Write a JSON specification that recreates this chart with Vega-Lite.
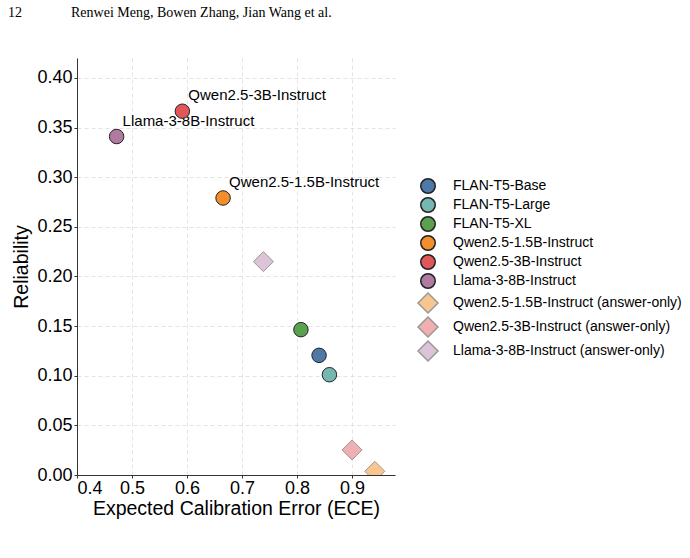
{
  "$schema": "https://vega.github.io/schema/vega-lite/v6.json",
  "width": 318,
  "height": 417,
  "autosize": {"type": "none"},
  "padding": {"left": 77, "top": 58, "right": 295, "bottom": 83},
  "background": "white",
  "title": {
    "text": "12\u00a0\u00a0\u00a0\u00a0\u00a0\u00a0\u00a0\u00a0\u00a0\u00a0\u00a0\u00a0\u00a0\u00a0Renwei Meng, Bowen Zhang, Jian Wang et al.",
    "anchor": "start",
    "frame": "group",
    "font": "Liberation Serif",
    "fontSize": 14,
    "fontWeight": "normal",
    "color": "black",
    "dx": -69,
    "offset": 38
  },
  "data": {
    "values": [
      {"model": "FLAN-T5-Base", "ece": 0.840, "reliability": 0.1205, "label": ""},
      {"model": "FLAN-T5-Large", "ece": 0.8588, "reliability": 0.101, "label": ""},
      {"model": "FLAN-T5-XL", "ece": 0.807, "reliability": 0.1464, "label": ""},
      {"model": "Qwen2.5-1.5B-Instruct", "ece": 0.6655, "reliability": 0.279, "label": "Qwen2.5-1.5B-Instruct"},
      {"model": "Qwen2.5-3B-Instruct", "ece": 0.5915, "reliability": 0.3664, "label": "Qwen2.5-3B-Instruct"},
      {"model": "Llama-3-8B-Instruct", "ece": 0.472, "reliability": 0.3409, "label": "Llama-3-8B-Instruct"},
      {"model": "Qwen2.5-1.5B-Instruct (answer-only)", "ece": 0.9413, "reliability": 0.0037, "label": ""},
      {"model": "Qwen2.5-3B-Instruct (answer-only)", "ece": 0.900, "reliability": 0.0252, "label": ""},
      {"model": "Llama-3-8B-Instruct (answer-only)", "ece": 0.7388, "reliability": 0.2149, "label": ""}
    ]
  },
  "config": {
    "view": {"stroke": null},
    "font": "Liberation Sans",
    "axis": {
      "labelFont": "Liberation Sans",
      "titleFont": "Liberation Sans",
      "labelFontSize": 18,
      "titleFontSize": 19.5,
      "titleFontWeight": "normal",
      "labelColor": "black",
      "titleColor": "black",
      "domainColor": "#333",
      "tickColor": "#333",
      "tickSize": 3,
      "gridColor": "#dddddd",
      "gridDash": [4, 3],
      "gridWidth": 0.8
    },
    "legend": {
      "title": null,
      "orient": "none",
      "legendX": 340,
      "legendY": 120,
      "labelFont": "Liberation Sans",
      "labelFontSize": 14,
      "labelColor": "black",
      "labelOffset": 14,
      "labelLimit": 0,
      "rowPadding": -3
    }
  },
  "encoding": {
    "x": {
      "field": "ece",
      "type": "quantitative",
      "scale": {"domain": [0.4, 0.978], "nice": false, "zero": false},
      "axis": {"title": "Expected Calibration Error (ECE)", "values": [0.4, 0.5, 0.6, 0.7, 0.8, 0.9], "format": ".1f", "labelPadding": 1, "titlePadding": 2}
    },
    "y": {
      "field": "reliability",
      "type": "quantitative",
      "scale": {"domain": [0, 0.42], "nice": false},
      "axis": {"title": "Reliability", "values": [0, 0.05, 0.1, 0.15, 0.2, 0.25, 0.3, 0.35, 0.4], "format": ".2f", "labelPadding": 2, "titlePadding": 5}
    }
  },
  "layer": [
    {
      "transform": [{"filter": "datum.label != ''"}],
      "mark": {"type": "text", "align": "left", "baseline": "middle", "dx": 6, "dy": -16, "fontSize": 15, "font": "Liberation Sans", "color": "black"},
      "encoding": {"text": {"field": "label"}}
    },
    {
      "mark": {"type": "point", "filled": true, "opacity": 1, "strokeWidth": 1, "clip": true},
      "encoding": {
        "fill": {
          "field": "model", "type": "nominal", "title": null,
          "scale": {
            "domain": ["FLAN-T5-Base", "FLAN-T5-Large", "FLAN-T5-XL", "Qwen2.5-1.5B-Instruct", "Qwen2.5-3B-Instruct", "Llama-3-8B-Instruct", "Qwen2.5-1.5B-Instruct (answer-only)", "Qwen2.5-3B-Instruct (answer-only)", "Llama-3-8B-Instruct (answer-only)"],
            "range": ["#4E79A7", "#76B7B2", "#59A14F", "#F28E2B", "#E15759", "#B07AA1", "#F9C690", "#F0B0B2", "#DCC3D8"]
          },
          "legend": {
            "encode": {
              "symbols": {"update": {"size": {"signal": "indexof(datum.value, 'answer-only') >= 0 ? 400 : 250"}}}
            }
          }
        },
        "stroke": {
          "field": "model", "type": "nominal", "title": null,
          "scale": {
            "domain": ["FLAN-T5-Base", "FLAN-T5-Large", "FLAN-T5-XL", "Qwen2.5-1.5B-Instruct", "Qwen2.5-3B-Instruct", "Llama-3-8B-Instruct", "Qwen2.5-1.5B-Instruct (answer-only)", "Qwen2.5-3B-Instruct (answer-only)", "Llama-3-8B-Instruct (answer-only)"],
            "range": ["#222", "#222", "#222", "#222", "#222", "#222", "#999", "#999", "#999"]
          }
        },
        "shape": {
          "field": "model", "type": "nominal", "title": null,
          "scale": {
            "domain": ["FLAN-T5-Base", "FLAN-T5-Large", "FLAN-T5-XL", "Qwen2.5-1.5B-Instruct", "Qwen2.5-3B-Instruct", "Llama-3-8B-Instruct", "Qwen2.5-1.5B-Instruct (answer-only)", "Qwen2.5-3B-Instruct (answer-only)", "Llama-3-8B-Instruct (answer-only)"],
            "range": ["circle", "circle", "circle", "circle", "circle", "circle", "diamond", "diamond", "diamond"]
          }
        },
        "size": {
          "field": "model", "type": "nominal", "title": null,
          "scale": {
            "type": "ordinal",
            "domain": ["FLAN-T5-Base", "FLAN-T5-Large", "FLAN-T5-XL", "Qwen2.5-1.5B-Instruct", "Qwen2.5-3B-Instruct", "Llama-3-8B-Instruct", "Qwen2.5-1.5B-Instruct (answer-only)", "Qwen2.5-3B-Instruct (answer-only)", "Llama-3-8B-Instruct (answer-only)"],
            "range": [210, 210, 210, 210, 210, 210, 400, 400, 400]
          }
        }
      }
    }
  ]
}
